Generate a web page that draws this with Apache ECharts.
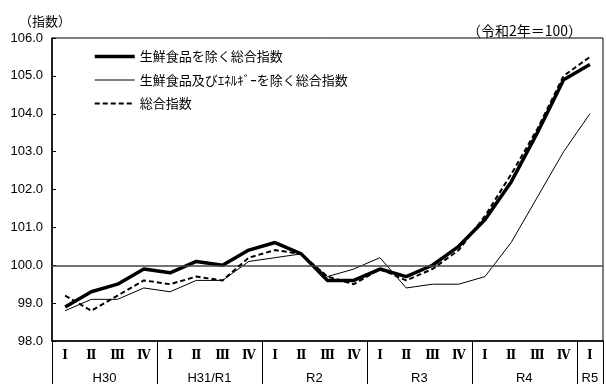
<!DOCTYPE html>
<html>
<head>
<meta charset="utf-8">
<script src="https://cdn.jsdelivr.net/npm/echarts@6/dist/echarts.min.js"></script>
<style>
html,body{margin:0;padding:0;background:#fff;}
#chart{width:606px;height:385px;}
</style>
</head>
<body>
<div id="chart"></div>
<script>
// ---- data ----
var quarterLabels = ['Ⅰ','Ⅱ','Ⅲ','Ⅳ','Ⅰ','Ⅱ','Ⅲ','Ⅳ','Ⅰ','Ⅱ','Ⅲ','Ⅳ','Ⅰ','Ⅱ','Ⅲ','Ⅳ','Ⅰ','Ⅱ','Ⅲ','Ⅳ','Ⅰ'];
var yearLabels = ['H30','H31/R1','R2','R3','R4','R5'];
var yearQuarterCounts = [4,4,4,4,4,1];
var seriesNames = ['生鮮食品を除く総合指数','生鮮食品及びｴﾈﾙｷﾞｰを除く総合指数','総合指数'];
var coreValues = [98.9, 99.3, 99.5, 99.9, 99.8, 100.1, 100.0, 100.4, 100.6, 100.3, 99.6, 99.6, 99.9, 99.7, 100.0, 100.5, 101.2, 102.2, 103.5, 104.9, 105.3];
var coreCoreValues = [98.8, 99.1, 99.1, 99.4, 99.3, 99.6, 99.6, 100.1, 100.2, 100.3, 99.7, 99.9, 100.2, 99.4, 99.5, 99.5, 99.7, 100.6, 101.8, 103.0, 104.0];
var totalValues = [99.2, 98.8, 99.2, 99.6, 99.5, 99.7, 99.6, 100.2, 100.4, 100.3, 99.7, 99.5, 99.9, 99.6, 99.9, 100.4, 101.3, 102.4, 103.6, 105.0, 105.5];
var yMin = 98, yMax = 106, yStep = 1, baseLine = 100;
var unitLabel = '（指数）';
var baseNote = '（令和2年＝100）';

// ---- derived year layout (in quarter units) ----
var yearCenters = [], acc = 0;
for (var i = 0; i < yearQuarterCounts.length; i++) {
  yearCenters.push(acc + yearQuarterCounts[i] / 2);
  acc += yearQuarterCounts[i];
}
var totalQ = acc;

var chart = echarts.init(document.getElementById('chart'), null, {renderer: 'canvas'});
var sansNum = 'Liberation Sans, Arial, sans-serif';
var jp = '"Noto Sans CJK JP", sans-serif';

var lineStyles = [
  {color: '#000', width: 3.5, type: 'solid'},
  {color: '#000', width: 1, type: 'solid'},
  {color: '#000', width: 2, type: [5, 3]}
];

var option = {
  animation: false,
  backgroundColor: '#fff',
  title: [
    {text: unitLabel, left: 14, top: 10, textStyle: {fontFamily: jp, fontSize: 13, fontWeight: 'normal', color: '#000'}},
    {text: baseNote, right: 19, top: 19, textStyle: {fontFamily: jp, fontSize: 14, fontWeight: 'normal', color: '#000'}}
  ],
  legend: {
    orient: 'vertical', left: 88, top: 45,
    itemWidth: 40, itemHeight: 14, itemGap: 10.5,
    itemStyle: {opacity: 0},
    textStyle: {fontFamily: jp, fontSize: 13, color: '#000'},
    data: seriesNames.map(function (n, k) {
      return {name: n, lineStyle: lineStyles[k], itemStyle: {opacity: 0}};
    })
  },
  grid: {left: 52, top: 38, right: -2, bottom: 43, show: true, borderColor: '#000', borderWidth: 1, backgroundColor: 'transparent'},
  xAxis: [
    {
      type: 'category', data: quarterLabels, boundaryGap: true, position: 'bottom',
      axisLine: {lineStyle: {color: '#000', width: 1.5}},
      axisTick: {show: false},
      axisLabel: {interval: 0, margin: 9, color: '#000', fontFamily: 'DejaVu Serif, serif', fontSize: 12, fontWeight: 'bold'}
    },
    {
      type: 'value', min: 0, max: totalQ, interval: 0.5, position: 'bottom',
      axisLine: {show: false}, axisTick: {show: false}, splitLine: {show: false},
      axisLabel: {
        margin: 31, color: '#000', fontFamily: sansNum, fontSize: 13,
        showMinLabel: true, showMaxLabel: true,
        formatter: function (v) {
          for (var k = 0; k < yearCenters.length; k++) {
            if (Math.abs(yearCenters[k] - v) < 1e-6) return yearLabels[k];
          }
          return '';
        }
      }
    },
    {
      type: 'value', min: 0, max: totalQ, interval: 4, position: 'bottom',
      axisLine: {show: false}, splitLine: {show: false},
      axisTick: {show: true, inside: false, length: 43, lineStyle: {color: '#000', width: 1}},
      axisLabel: {show: false}
    }
  ],
  yAxis: {
    type: 'value', min: yMin, max: yMax, interval: yStep,
    axisLine: {show: true, lineStyle: {color: '#000', width: 1.5}},
    axisTick: {show: true, inside: true, length: 4, lineStyle: {color: '#000'}},
    splitLine: {show: false},
    axisLabel: {color: '#000', fontFamily: sansNum, fontSize: 13, margin: 9, formatter: function (v) { return v.toFixed(1); }}
  },
  series: [
    {
      name: seriesNames[0], type: 'line', data: coreValues, xAxisIndex: 0,
      symbol: 'none', lineStyle: lineStyles[0], itemStyle: {color: '#000'}, z: 3,
      markLine: {
        silent: true, symbol: 'none', label: {show: false},
        lineStyle: {color: '#444', width: 1.5, type: 'solid'},
        data: [{yAxis: baseLine}]
      }
    },
    {
      name: seriesNames[1], type: 'line', data: coreCoreValues, xAxisIndex: 0,
      symbol: 'none', lineStyle: lineStyles[1], itemStyle: {color: '#000'}, z: 4
    },
    {
      name: seriesNames[2], type: 'line', data: totalValues, xAxisIndex: 0,
      symbol: 'none', lineStyle: lineStyles[2], itemStyle: {color: '#000'}, z: 5
    }
  ]
};
chart.setOption(option);
</script>
</body>
</html>
